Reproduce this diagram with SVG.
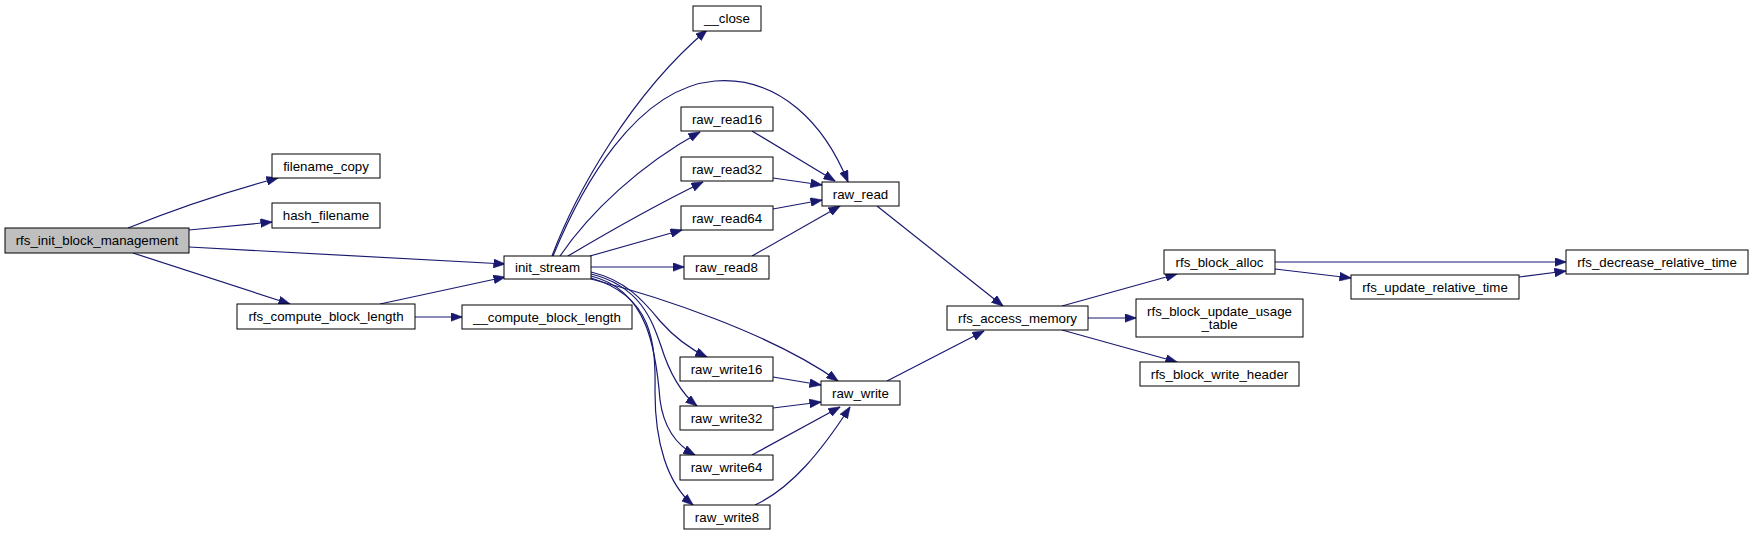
<svg xmlns="http://www.w3.org/2000/svg" width="1753" height="535" viewBox="0 0 1753 535">
<style>
.n rect{fill:#ffffff;stroke:#000000;stroke-width:1}
.n.root rect{fill:#bfbfbf}
.n text{font-family:"Liberation Sans",Arial,sans-serif;font-size:13.3px;fill:#000000;text-anchor:middle}
.e path{fill:none;stroke:#191970;stroke-width:1.2;marker-end:url(#ah)}
</style>
<defs>
<marker id="ah" viewBox="0 0 12 9" refX="11.5" refY="4.5" markerWidth="12" markerHeight="9" markerUnits="userSpaceOnUse" orient="auto">
<path d="M0,0 L12,4.5 L0,9 z" fill="#191970" stroke="#191970" stroke-width="0.5"/>
</marker>
</defs>
<rect width="1753" height="535" fill="#ffffff"/>
<g id="edges" class="e">
<path d="M128,228 C170,211 225,192 278,178"/>
<path d="M189,230 L272,222"/>
<path d="M189,247 L505,264"/>
<path d="M133,253 L290,304"/>
<path d="M380,304 L505,277"/>
<path d="M415,317 L462,317"/>
<path d="M552,256 C575,195 630,95 707,30"/>
<path d="M553,256 C580,190 635,88 715,81 C780,76 825,125 848,182"/>
<path d="M560,256 C590,212 640,165 700,132"/>
<path d="M568,256 C605,234 652,207 703,182"/>
<path d="M590,256 L682,230"/>
<path d="M591,267 L684,267"/>
<path d="M752,131 L835,181"/>
<path d="M773,178 L822,185"/>
<path d="M773,209 L822,200"/>
<path d="M752,256 L840,206"/>
<path d="M877,206 L1003,306"/>
<path d="M1062,306 L1177,274"/>
<path d="M1088,318 L1136,318"/>
<path d="M1062,330 L1177,362"/>
<path d="M1275,262 L1566,262"/>
<path d="M1275,269 L1351,278"/>
<path d="M1519,277 L1566,271"/>
<path d="M887,381 L984,331"/>
<path d="M591,279 C660,297 770,333 838,381"/>
<path d="M591,272 C625,280 643,300 660,321 C675,338 690,349 707,357"/>
<path d="M591,274 C640,286 652,320 661,346 C670,375 682,394 697,406"/>
<path d="M591,276 C648,290 656,350 660,400 C664,430 678,446 695,455"/>
<path d="M591,278 C652,296 656,342 655,392 C655,442 667,483 693,505"/>
<path d="M773,377 L821,385"/>
<path d="M773,408 L821,402"/>
<path d="M752,455 L840,407"/>
<path d="M755,505 C792,488 822,450 850,407"/>
</g>
<g id="rfs_init_block_management" class="n root"><rect x="5" y="228" width="184" height="25"/><text x="97" y="245">rfs_init_block_management</text></g>
<g id="filename_copy" class="n"><rect x="272" y="154" width="108" height="24"/><text x="326" y="171">filename_copy</text></g>
<g id="hash_filename" class="n"><rect x="272" y="203" width="108" height="25"/><text x="326" y="220">hash_filename</text></g>
<g id="rfs_compute_block_length" class="n"><rect x="237" y="304" width="178" height="25"/><text x="326" y="321">rfs_compute_block_length</text></g>
<g id="init_stream" class="n"><rect x="504" y="256" width="87" height="23"/><text x="547.5" y="272">init_stream</text></g>
<g id="__compute_block_length" class="n"><rect x="462" y="305" width="170" height="24"/><text x="547" y="322">__compute_block_length</text></g>
<g id="__close" class="n"><rect x="693" y="6" width="68" height="25"/><text x="727" y="23">__close</text></g>
<g id="raw_read16" class="n"><rect x="681" y="107" width="92" height="24"/><text x="727" y="124">raw_read16</text></g>
<g id="raw_read32" class="n"><rect x="681" y="157" width="92" height="24"/><text x="727" y="174">raw_read32</text></g>
<g id="raw_read64" class="n"><rect x="681" y="206" width="92" height="24"/><text x="727" y="223">raw_read64</text></g>
<g id="raw_read8" class="n"><rect x="684" y="256" width="85" height="23"/><text x="726.5" y="272">raw_read8</text></g>
<g id="raw_read" class="n"><rect x="822" y="182" width="77" height="24"/><text x="860.5" y="199">raw_read</text></g>
<g id="raw_write16" class="n"><rect x="680" y="357" width="93" height="24"/><text x="726.5" y="374">raw_write16</text></g>
<g id="raw_write32" class="n"><rect x="680" y="406" width="93" height="24"/><text x="726.5" y="423">raw_write32</text></g>
<g id="raw_write64" class="n"><rect x="680" y="455" width="93" height="25"/><text x="726.5" y="472">raw_write64</text></g>
<g id="raw_write8" class="n"><rect x="684" y="505" width="86" height="24"/><text x="727" y="522">raw_write8</text></g>
<g id="raw_write" class="n"><rect x="821" y="381" width="79" height="24"/><text x="860.5" y="398">raw_write</text></g>
<g id="rfs_access_memory" class="n"><rect x="947" y="306" width="141" height="24"/><text x="1017.5" y="323">rfs_access_memory</text></g>
<g id="rfs_block_alloc" class="n"><rect x="1164" y="250" width="111" height="24"/><text x="1219.5" y="267">rfs_block_alloc</text></g>
<g id="rfs_block_update_usage_table" class="n"><rect x="1136" y="299" width="167" height="38"/><text x="1219.5" y="316">rfs_block_update_usage</text><text x="1219.5" y="329">_table</text></g>
<g id="rfs_block_write_header" class="n"><rect x="1140" y="362" width="159" height="24"/><text x="1219.5" y="379">rfs_block_write_header</text></g>
<g id="rfs_update_relative_time" class="n"><rect x="1351" y="275" width="168" height="24"/><text x="1435" y="292">rfs_update_relative_time</text></g>
<g id="rfs_decrease_relative_time" class="n"><rect x="1566" y="250" width="182" height="24"/><text x="1657" y="267">rfs_decrease_relative_time</text></g>
</svg>
